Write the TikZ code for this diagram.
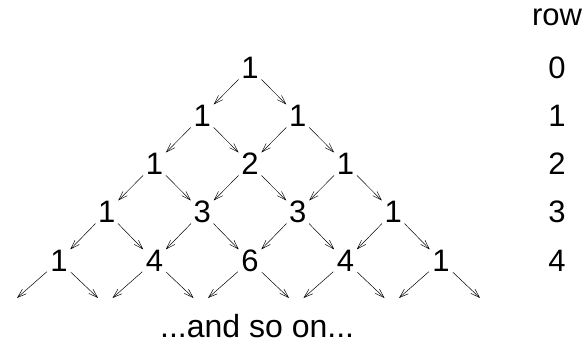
\documentclass[tikz,border=0pt]{standalone}
\usepackage{fontspec}
\setmainfont{Liberation Sans}
\usetikzlibrary{arrows.meta,calc}
\begin{document}
\begin{tikzpicture}[x=1pt,y=-1pt,
  num/.style={circle,minimum size=32pt,inner sep=0pt,font=\fontsize{31}{36}\selectfont},
  lbl/.style={inner sep=0pt,font=\fontsize{31}{36}\selectfont},
  arr/.style={-{Straight Barb[length=9pt,width=6pt]},line width=0.5pt}]
\useasboundingbox (0,0) rectangle (584,345);
\def\hx{47.75}
% row 0
\node[num] (n00) at (250,68) {1};
% row 1
\node[num] (n10) at (250-\hx,116) {1};
\node[num] (n11) at (250+\hx,116) {1};
% row 2
\node[num] (n20) at (250-2*\hx,164) {1};
\node[num] (n21) at (250,164) {2};
\node[num] (n22) at (250+2*\hx,164) {1};
% row 3
\node[num] (n30) at (250-3*\hx,212) {1};
\node[num] (n31) at (250-\hx,212) {3};
\node[num] (n32) at (250+\hx,212) {3};
\node[num] (n33) at (250+3*\hx,212) {1};
% row 4
\node[num] (n40) at (250-4*\hx,261) {1};
\node[num] (n41) at (250-2*\hx,261) {4};
\node[num] (n42) at (250,261) {6};
\node[num] (n43) at (250+2*\hx,261) {4};
\node[num] (n44) at (250+4*\hx,261) {1};
% free ends
\foreach \k in {0,...,4}{
  \coordinate (l\k) at ($(n4\k)+(-42,37)$);
  \coordinate (r\k) at ($(n4\k)+(39,37)$);
}
% arrows
\foreach \r/\rr/\m in {0/1/0,1/2/1,2/3/2,3/4/3}{
  \foreach \k in {0,...,\m}{
    \pgfmathtruncatemacro\kk{\k+1}
    \draw[arr] (n\r\k) -- (n\rr\k);
    \draw[arr] (n\r\k) -- (n\rr\kk);
  }
}
\foreach \k in {0,...,4}{
  \draw[arr] (n4\k) -- (l\k);
  \draw[arr] (n4\k) -- (r\k);
}
\node[inner sep=0pt,anchor=base west,font=\fontsize{32}{36}\selectfont] (more) at (160,337) {...and so on...};
% row labels
\node[lbl] (row) at (557,17) {row};
\node[lbl] (r0) at (557,68) {0};
\node[lbl] (r1) at (557,116) {1};
\node[lbl] (r2) at (557,164) {2};
\node[lbl] (r3) at (557,212) {3};
\node[lbl] (r4) at (557,261) {4};
\end{tikzpicture}
\end{document}
